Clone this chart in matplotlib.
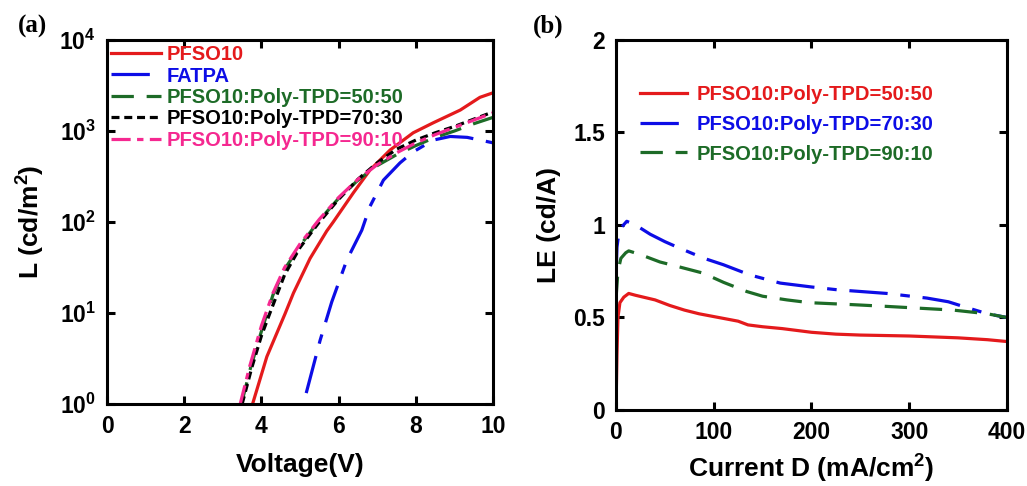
import numpy as np
import matplotlib.pyplot as plt
from matplotlib.ticker import FuncFormatter, FixedLocator

plt.rcParams['font.family'] = 'Liberation Sans'
plt.rcParams['font.weight'] = 'bold'
plt.rcParams['mathtext.fontset'] = 'custom'
plt.rcParams['mathtext.rm'] = 'Liberation Sans:bold'
plt.rcParams['mathtext.bf'] = 'Liberation Sans:bold'
plt.rcParams['mathtext.it'] = 'Liberation Sans:bold'

# ---- panel (a): luminance vs voltage (log10 L)
v_pfso = [3.77, 4.14, 4.61, 4.83, 5.26, 5.69, 5.86, 6.38, 6.81, 7.33, 7.93, 8.45, 9.15, 9.66, 10.0]
logL_pfso = [0.0, 0.52, 0.99, 1.22, 1.6, 1.9, 2.0, 2.32, 2.57, 2.79, 2.98, 3.09, 3.23, 3.37, 3.42]

v_fatpa = [5.16, 5.52, 5.82, 6.21, 6.6, 6.81, 7.16, 7.59, 7.93, 8.45, 8.89, 9.33, 10.0]
logL_fatpa = [0.12, 0.7, 1.12, 1.58, 1.91, 2.17, 2.46, 2.65, 2.77, 2.9, 2.94, 2.93, 2.87]

v_5050 = [3.48, 3.72, 4.0, 4.3, 4.6, 5.0, 5.5, 6.0, 6.5, 7.0, 7.5, 8.0, 8.5, 9.0, 9.5, 10.0]
logL_5050 = [0.0, 0.4, 0.8, 1.2, 1.48, 1.74, 2.02, 2.26, 2.46, 2.62, 2.74, 2.84, 2.93, 3.0, 3.08, 3.15]

v_7030 = [3.5, 3.75, 4.0, 4.22, 4.6, 5.0, 5.5, 6.0, 6.5, 7.0, 7.5, 8.0, 8.5, 9.0, 9.5, 10.0]
logL_7030 = [0.0, 0.4, 0.75, 1.0, 1.42, 1.72, 2.0, 2.25, 2.47, 2.65, 2.8, 2.9, 2.98, 3.05, 3.13, 3.21]

v_9010 = [3.45, 3.7, 4.0, 4.3, 4.6, 5.0, 5.5, 6.0, 6.5, 7.0, 7.5, 8.0, 8.5, 9.0, 9.5, 10.0]
logL_9010 = [0.0, 0.42, 0.86, 1.22, 1.5, 1.76, 2.03, 2.27, 2.47, 2.63, 2.76, 2.87, 2.96, 3.04, 3.12, 3.2]

# ---- panel (b): LE vs current density
j_5050 = [0, 1, 2, 4, 8, 13, 20, 40, 55, 70, 85, 100, 115, 125, 135, 150, 170, 200, 225, 250, 300, 350, 380, 400]
le_5050 = [0.0, 0.3, 0.5, 0.58, 0.61, 0.63, 0.62, 0.595, 0.565, 0.54, 0.52, 0.505, 0.49, 0.48, 0.46, 0.45, 0.44, 0.42, 0.41, 0.405, 0.4, 0.39, 0.38, 0.37]

j_7030 = [0, 1, 3, 6, 11, 20, 35, 50, 65, 90, 110, 137, 168, 200, 226, 277, 318, 340, 355, 380, 400]
le_7030 = [0.72, 0.88, 0.96, 0.99, 1.02, 1.0, 0.95, 0.91, 0.875, 0.82, 0.785, 0.73, 0.686, 0.665, 0.65, 0.63, 0.605, 0.585, 0.56, 0.52, 0.5]

j_9010 = [0, 2, 5, 10, 13, 25, 45, 60, 89, 110, 134, 150, 175, 198, 240, 277, 345, 380, 400]
le_9010 = [0.6, 0.75, 0.82, 0.85, 0.86, 0.84, 0.8, 0.78, 0.74, 0.69, 0.64, 0.615, 0.595, 0.58, 0.57, 0.56, 0.54, 0.52, 0.5]

red = '#e41a1c'
blue = '#0d0de6'
green = '#1d6b27'
pink = '#f52890'

fig = plt.figure(figsize=(10.27, 4.86), dpi=100)
ax1 = fig.add_axes([0.1042, 0.1687, 0.3759, 0.749])
ax2 = fig.add_axes([0.5998, 0.1564, 0.3807, 0.7613])

lw = 2.3
ax1.plot(v_pfso, 10 ** np.array(logL_pfso), color=red, lw=lw, label='PFSO10')
ax1.plot(v_fatpa, 10 ** np.array(logL_fatpa), color=blue, lw=lw, dashes=(12, 4, 3, 4), label='FATPA')
ax1.plot(v_5050, 10 ** np.array(logL_5050), color=green, lw=lw, dashes=(7, 4), label='PFSO10:Poly-TPD=50:50')
ax1.plot(v_7030, 10 ** np.array(logL_7030), color='black', lw=lw, dashes=(2.5, 1.5), label='PFSO10:Poly-TPD=70:30')
ax1.plot(v_9010, 10 ** np.array(logL_9010), color=pink, lw=lw, dashes=(6, 2, 2, 2), label='PFSO10:Poly-TPD=90:10')

ax1.set_yscale('log')
ax1.set_xlim(0, 10)
ax1.set_ylim(1, 1e4)
ax1.xaxis.set_major_locator(FixedLocator([0, 2, 4, 6, 8, 10]))
ax1.yaxis.set_major_locator(FixedLocator([1, 10, 100, 1000, 10000]))
ax1.yaxis.set_minor_locator(FixedLocator([]))
ax1.yaxis.set_major_formatter(FuncFormatter(lambda y, p: r'$\mathbf{10^{%d}}$' % round(np.log10(y))))
ax1.set_xlabel('Voltage(V)', fontsize=19, fontweight='bold', labelpad=11)
ax1.set_ylabel(r'L (cd/m$^\mathbf{2}$)', fontsize=19, fontweight='bold', labelpad=9)
leg1 = ax1.legend(loc='upper left', frameon=False, fontsize=14.5, handlelength=2.5,
                  handletextpad=0.25, labelspacing=0.12, borderpad=0, borderaxespad=0,
                  bbox_to_anchor=(0.01, 0.986))
for t, ln in zip(leg1.get_texts(), leg1.get_lines()):
    t.set_color(ln.get_color())

ax2.plot(j_5050, le_5050, color=red, lw=lw, label='PFSO10:Poly-TPD=50:50')
ax2.plot(j_7030, le_7030, color=blue, lw=lw, dashes=(12, 4, 3, 4), label='PFSO10:Poly-TPD=70:30')
ax2.plot(j_9010, le_9010, color=green, lw=lw, dashes=(7, 4), label='PFSO10:Poly-TPD=90:10')
ax2.set_xlim(0, 400)
ax2.set_ylim(0, 2)
ax2.xaxis.set_major_locator(FixedLocator([0, 100, 200, 300, 400]))
ax2.yaxis.set_major_locator(FixedLocator([0, 0.5, 1, 1.5, 2]))
ax2.yaxis.set_major_formatter(FuncFormatter(lambda y, p: '%g' % y))
ax2.set_xlabel(r'Current D (mA/cm$^\mathbf{2}$)', fontsize=19, fontweight='bold', labelpad=6)
ax2.set_ylabel('LE (cd/A)', fontsize=19, fontweight='bold', labelpad=9)
leg2 = ax2.legend(loc='upper left', frameon=False, fontsize=14.5, handlelength=2.35,
                  handletextpad=0.45, labelspacing=0.54, borderpad=0, borderaxespad=0,
                  bbox_to_anchor=(0.061, 0.879))
for t, ln in zip(leg2.get_texts(), leg2.get_lines()):
    t.set_color(ln.get_color())

for ax in (ax1, ax2):
    for s in ax.spines.values():
        s.set_linewidth(2.2)
    ax.tick_params(which='both', direction='in', top=True, right=True, length=6, width=2.2,
                   labelsize=16.5, pad=8)
    for lab in ax.get_xticklabels() + ax.get_yticklabels():
        lab.set_fontweight('bold')

fig.text(0.017, 0.945, '(a)', fontsize=18, fontweight='bold', family='Liberation Serif', va='center')
fig.text(0.519, 0.945, '(b)', fontsize=18, fontweight='bold', family='Liberation Serif', va='center')

fig.savefig('out.png', dpi=100)
